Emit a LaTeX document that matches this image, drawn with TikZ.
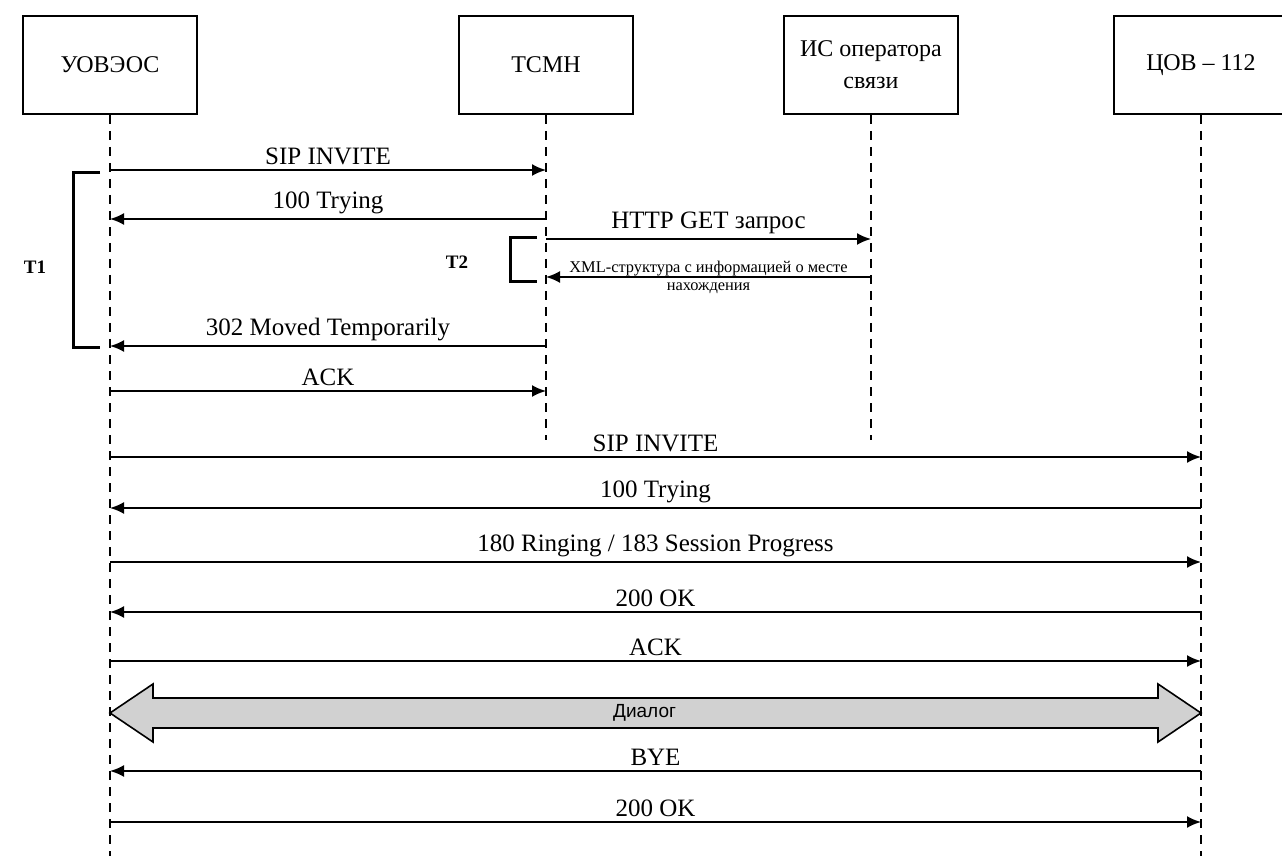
\documentclass[tikz,border=0pt]{standalone}
\usepackage{fontspec}
\setmainfont{Liberation Serif}
\newfontfamily\dlgfont{Liberation Sans}
\usetikzlibrary{arrows.meta, positioning, calc}

\begin{document}
\begin{tikzpicture}[x=0.5pt, y=-0.5pt,
  actor/.style={rectangle, draw, line width=1pt, minimum width=87pt, minimum height=49pt, align=center, font=\fontsize{12}{16}\selectfont},
  lifeline/.style={line width=0.9pt, dash pattern=on 4.5pt off 3.5pt},
  msg/.style={line width=1pt, -{Latex[length=7pt, width=6pt]}},
  lbl/.style={above, inner sep=2pt, font=\fontsize{12.5}{14}\selectfont},
  xmlnote/.style={align=center, inner sep=0pt, font=\fontsize{8.2}{9}\selectfont},
  bracket/.style={line width=1.5pt},
  tlabel/.style={font=\bfseries\fontsize{9.5}{11}\selectfont},
  bigarrow/.style={draw, line width=0.8pt, fill=black!18, line join=miter}]
  \useasboundingbox (0,0) rectangle (1282,856);

  % participants
  \node (uoveos) [actor] at (110,65) {УОВЭОС};
  \node (tsmn) [actor, right=130pt of uoveos] {ТСМН};
  \node (isop) [actor, right=74.5pt of tsmn] {ИС оператора\\связи};
  \node (tsov) [actor, right=77pt of isop] {ЦОВ – 112};

  % points on the lifelines, one row per message
  \foreach \r/\y in {1/170, 2/219, 3/239, 4/277, 5/346, 6/391, 7/457, 8/508, 9/562, 10/612, 11/661, 12/713, 13/771, 14/822}
    \path (uoveos |- 0,\y) coordinate (u\r) (tsmn |- 0,\y) coordinate (t\r)
          (isop |- 0,\y) coordinate (i\r) (tsov |- 0,\y) coordinate (c\r);

  % lifelines
  \draw[lifeline] (uoveos.south) -- (uoveos |- 0,856);
  \draw[lifeline] (tsmn.south) -- (tsmn |- 0,440);
  \draw[lifeline] (isop.south) -- (isop |- 0,440);
  \draw[lifeline] (tsov.south) -- (tsov |- 0,856);

  % redirect via TSMN
  \draw[msg] (u1) -- node[lbl] {SIP INVITE} (t1);
  \draw[msg] (t2) -- node[lbl] {100 Trying} (u2);
  \draw[msg] (t3) -- node[lbl] {HTTP GET запрос} (i3);
  \draw[msg] (i4) -- node[xmlnote] {XML-структура с информацией о месте\\нахождения} (t4);
  \draw[msg] (t5) -- node[lbl] {302 Moved Temporarily} (u5);
  \draw[msg] (u6) -- node[lbl] {ACK} (t6);

  % timers
  \draw[bracket] (100,173) -| (73,348) -- (100,348);
  \draw[bracket] (537,238) -| (510,282) -- (537,282);
  \node (tone) [tlabel] at (35,267) {T1};
  \node (ttwo) [tlabel] at (457,262) {T2};

  % call to 112
  \draw[msg] (u7) -- node[lbl] {SIP INVITE} (c7);
  \draw[msg] (c8) -- node[lbl] {100 Trying} (u8);
  \draw[msg] (u9) -- node[lbl] {180 Ringing / 183 Session Progress} (c9);
  \draw[msg] (c10) -- node[lbl] {200 OK} (u10);
  \draw[msg] (u11) -- node[lbl] {ACK} (c11);
  \draw[bigarrow] (u12) -- ++(43,-29) -- ++(0,14) -- ($(c12)+(-43,-15)$) -- ++(0,-14) -- (c12)
    -- ++(-43,29) -- ++(0,-14) -- ($(u12)+(43,15)$) -- ++(0,14) -- cycle;
  \node (dialog) [font=\dlgfont\fontsize{9.5}{11}\selectfont] at ($(u12)!0.49!(c12)$) {Диалог};
  \draw[msg] (c13) -- node[lbl] {BYE} (u13);
  \draw[msg] (u14) -- node[lbl] {200 OK} (c14);
\end{tikzpicture}
\end{document}
